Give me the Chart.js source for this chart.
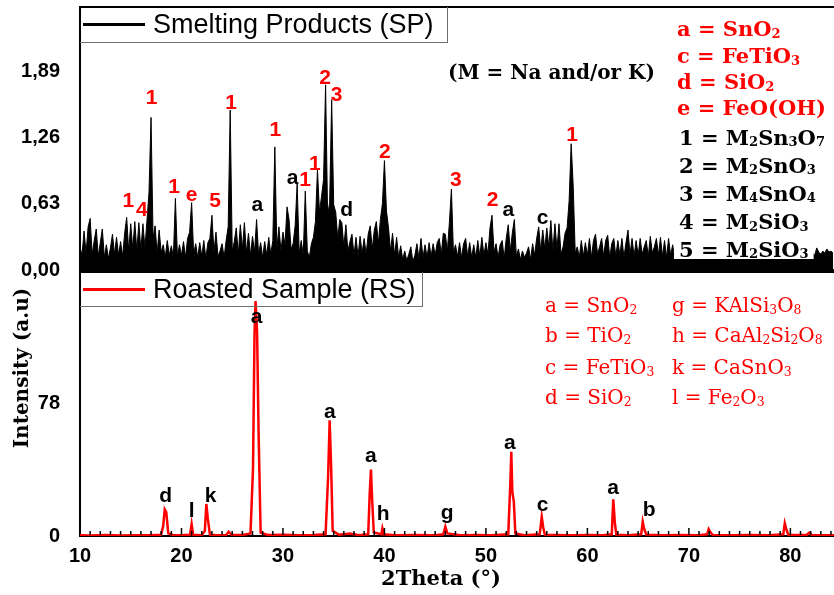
<!DOCTYPE html>
<html>
<head>
<meta charset="utf-8">
<title>XRD - Smelting Products vs Roasted Sample</title>
<script src="https://cdn.jsdelivr.net/npm/chart.js@4.4.1/dist/chart.umd.min.js"></script>
<style>
  body { margin: 0; background: #fff; width: 834px; height: 595px; overflow: hidden; position: relative; }
  canvas { position: absolute; left: 0; }
  #spCanvas { top: 0; }
  #rsCanvas { top: 270px; }
  .key {
    position: absolute; left: 80px; box-sizing: border-box;
    border: solid #6f6f6f; border-width: 0 1px 1px 0;
    display: flex; align-items: center;
    font: 27px "Liberation Sans", Arial, sans-serif; color: #000; z-index: 5;
  }
  .key .swatch { display: inline-block; width: 62px; height: 3px; margin: 0 8px 0 3px; }
</style>
</head>
<body>
<canvas id="spCanvas" width="834" height="290"></canvas>
<canvas id="rsCanvas" width="834" height="325"></canvas>
<div class="key" style="top:7px;width:368px;height:36px"><span class="swatch" style="background:#000"></span>Smelting Products (SP)</div>
<div class="key" style="top:272px;width:343px;height:35px"><span class="swatch" style="background:#f00"></span>Roasted Sample (RS)</div>
<script>
// --- data ---

// smelting products scan: 2theta from 10 in 0.2 steps
const spStart = 10;
const spStep = 0.2;
const spIntensity = [
  0.22, 0.14, 0.37, 0.16, 0.41,  0.49, 0.15, 0.28, 0.39, 0.13,   // 10, 11
  0.26, 0.39, 0.12, 0.24, 0.11,  0.21, 0.34, 0.15, 0.31, 0.14,   // 12, 13
  0.27, 0.13, 0.35, 0.50, 0.18,  0.44, 0.20, 0.46, 0.18, 0.45,   // 14, 15
  0.19, 0.44, 0.21, 0.47, 0.74,  1.45, 0.30, 0.42, 0.16, 0.38,   // 16, 17
  0.17, 0.24, 0.12, 0.28, 0.14,  0.23, 0.12, 0.68, 0.13, 0.24,   // 18, 19
  0.14, 0.27, 0.12, 0.30, 0.36,  0.64, 0.15, 0.25, 0.12, 0.26,   // 20, 21
  0.13, 0.28, 0.11, 0.26, 0.30,  0.52, 0.17, 0.36, 0.13, 0.18,   // 22, 23
  0.25, 0.12, 0.28, 0.41, 1.52,  0.18, 0.27, 0.40, 0.15, 0.43,   // 24, 25
  0.20, 0.45, 0.16, 0.35, 0.14,  0.32, 0.17, 0.48, 0.15, 0.26,   // 26, 27
  0.12, 0.27, 0.14, 0.31, 0.15,  0.28, 1.17, 0.20, 0.41, 0.18,   // 28, 29
  0.36, 0.24, 0.60, 0.48, 0.20,  0.25, 0.42, 0.82, 0.16, 0.28,   // 30, 31
  0.14, 0.75, 0.18, 0.12, 0.25,  0.31, 0.46, 0.95, 0.55, 0.70,   // 32, 33
  0.86, 1.76, 0.52, 0.64, 1.62,  0.62, 0.55, 0.30, 0.48, 0.45,   // 34, 35
  0.22, 0.43, 0.18, 0.27, 0.34,  0.14, 0.31, 0.13, 0.32, 0.16,   // 36, 37
  0.30, 0.15, 0.34, 0.42, 0.20,  0.38, 0.46, 0.25, 0.48, 0.63,   // 38, 39
  1.04, 0.56, 0.40, 0.18, 0.35,  0.14, 0.31, 0.12, 0.23, 0.10,   // 40, 41
  0.18, 0.09, 0.15, 0.22, 0.08,  0.14, 0.25, 0.11, 0.30, 0.12,   // 42, 43
  0.24, 0.12, 0.26, 0.13, 0.25,  0.14, 0.26, 0.30, 0.15, 0.35,   // 44, 45
  0.34, 0.18, 0.45, 0.77, 0.16,  0.24, 0.13, 0.26, 0.12, 0.25,   // 46, 47
  0.30, 0.13, 0.26, 0.12, 0.24,  0.12, 0.28, 0.13, 0.31, 0.14,   // 48, 49
  0.26, 0.15, 0.40, 0.52, 0.17,  0.25, 0.12, 0.24, 0.28, 0.11,   // 50, 51
  0.30, 0.43, 0.18, 0.35, 0.48,  0.13, 0.20, 0.10, 0.18, 0.12,   // 52, 53
  0.16, 0.22, 0.10, 0.25, 0.14,  0.30, 0.41, 0.18, 0.38, 0.20,   // 54, 55
  0.40, 0.22, 0.47, 0.18, 0.44,  0.20, 0.44, 0.15, 0.22, 0.35,   // 56, 57
  0.40, 0.66, 1.20, 0.80, 0.16,  0.22, 0.12, 0.28, 0.13, 0.26,   // 58, 59
  0.14, 0.30, 0.12, 0.28, 0.34,  0.15, 0.22, 0.30, 0.13, 0.28,   // 60, 61
  0.33, 0.12, 0.25, 0.30, 0.13,  0.28, 0.14, 0.30, 0.12, 0.26,   // 62, 63
  0.38, 0.15, 0.30, 0.13, 0.28,  0.14, 0.30, 0.15, 0.22, 0.28,   // 64, 65
  0.13, 0.32, 0.16, 0.22, 0.30,  0.14, 0.31, 0.13, 0.28, 0.12,   // 66, 67
  0.30, 0.14, 0.24, 0.12, 0.22,  0.18, 0.24, 0.15, 0.20, 0.17,   // 68, 69
  0.22, 0.16, 0.19, 0.14, 0.21,  0.17, 0.20, 0.15, 0.23, 0.18,   // 70, 71
  0.16, 0.21, 0.14, 0.19, 0.22,  0.15, 0.18, 0.20, 0.14, 0.17,   // 72, 73
  0.19, 0.15, 0.22, 0.16, 0.18,  0.14, 0.20, 0.17, 0.21, 0.15,   // 74, 75
  0.18, 0.16, 0.19, 0.14, 0.22,  0.17, 0.21, 0.15, 0.18, 0.16,   // 76, 77
  0.20, 0.14, 0.19, 0.17, 0.15,  0.16, 0.22, 0.18, 0.15, 0.20,   // 78, 79
  0.14, 0.18, 0.21, 0.16, 0.19,  0.17, 0.15, 0.20, 0.14, 0.18,   // 80, 81
  0.19, 0.16, 0.14, 0.21, 0.17,  0.15, 0.18, 0.16, 0.20, 0.17,   // 82, 83
  0.18, 0.16                                                     // 84
];
const spTicks = [0, 0.63, 1.26, 1.89];

// roasted sample: peaks on a flat baseline
const rsTheta = [
  10.0, 11.0, 12.5, 14.0, 15.5, 17.0, 18.0, 18.2, 18.35, 18.5, 18.7, 19.2,
  20.2, 20.85, 21.0, 21.15, 22.0, 22.3, 22.45, 22.6, 22.8, 23.5, 24.4, 24.65, 24.9,
  26.0, 26.8, 27.05, 27.2, 27.3, 27.45, 27.6, 27.8, 28.5, 30.0, 31.5, 33.0,
  34.2, 34.45, 34.6, 34.75, 34.9, 35.5, 36.6, 37.5, 38.4, 38.55, 38.67, 38.8, 38.95,
  39.7, 39.8, 39.95, 41.0, 43.0, 45.0, 45.8, 46.0, 46.2, 47.5, 49.0, 50.5,
  52.2, 52.4, 52.5, 52.6, 52.75, 52.9, 53.8, 55.3, 55.5, 55.65, 55.8, 57.0, 58.5,
  60.0, 61.5, 62.4, 62.55, 62.7, 62.85, 64.0, 65.3, 65.45, 65.6, 65.8, 67.5, 69.0,
  71.0, 71.8, 71.95, 72.15, 72.35, 74.0, 76.0, 78.0, 79.3, 79.45, 79.6, 79.8,
  81.6, 81.85, 82.1, 84.3
];
const rsIntensity = [
  0.5, 0.3, 0.6, 0.3, 0.5, 0.4, 0.8, 6, 15.6, 14, 1.5, 0.5,
  0.6, 0.8, 7.0, 0.8, 0.5, 3, 18.8, 10, 0.8, 0.5, 0.6, 2.5, 0.8,
  0.6, 1.5, 40, 120, 138, 120, 60, 2, 0.6, 0.8, 0.5, 0.6,
  1, 35, 68, 40, 3, 0.8, 1.5, 0.5, 1, 25, 39, 20, 2,
  1, 4.5, 1, 0.5, 0.6, 0.5, 1, 5.5, 1.5, 0.5, 0.6, 0.5,
  1, 30, 49.5, 26, 20, 1.5, 0.5, 1, 11.3, 5, 0.8, 0.6, 0.5,
  0.6, 0.5, 1, 21.5, 8, 0.8, 0.5, 1, 8.4, 4, 0.8, 0.5, 0.6,
  0.5, 1, 4, 2, 0.6, 0.5, 0.6, 0.5, 1, 7.5, 4, 0.6,
  0.6, 2, 0.6, 0.5
];
const rsTicks = [0, 78];
const thetaTicks = [10, 20, 30, 40, 50, 60, 70, 80];

// phase marks above the peaks
const spMarks = ['1', '4', '1', '1', 'e', '5', '1', 'a', '1', 'a', '1', '1', '2', '3', 'd', '2', '3', '2', 'a', 'c', '1'];
const spMarkTheta = [14.76, 16.1, 17.06, 19.26, 21.0, 23.3, 24.88, 27.47, 29.24, 30.95, 32.17, 33.15, 34.14, 35.29, 36.27, 40.05, 47.04, 50.66, 52.2, 55.58, 58.5];
const spMarkLevel = [0.65, 0.57, 1.63, 0.79, 0.71, 0.65, 1.59, 0.62, 1.33, 0.87, 0.85, 1.01, 1.82, 1.66, 0.57, 1.12, 0.85, 0.66, 0.57, 0.49, 1.28];

const rsMarks = ['d', 'l', 'k', 'a', 'a', 'a', 'h', 'g', 'a', 'c', 'a', 'b'];
const rsMarkTheta = [18.44, 21.0, 22.87, 27.4, 34.63, 38.67, 39.88, 46.19, 52.36, 55.58, 62.54, 66.09];
const rsMarkLevel = [23.1, 14.3, 23.5, 128.6, 72.9, 46.9, 12.7, 13.3, 54.7, 18.2, 28.0, 15.2];

// phase keys ("_" marks a subscript digit)
const spKeyRed = ['a = SnO_2', 'c = FeTiO_3', 'd = SiO_2', 'e = FeO(OH)'];
const spKeyBlack = ['1 = M_2Sn_3O_7', '2 = M_2SnO_3', '3 = M_4SnO_4', '4 = M_2SiO_3', '5 = M_2SiO_3'];
const rsKeyLeft = ['a = SnO_2', 'b = TiO_2', 'c = FeTiO_3', 'd = SiO_2'];
const rsKeyRight = ['g = KAlSi_3O_8', 'h = CaAl_2Si_2O_8', 'k = CaSnO_3', 'l = Fe_2O_3'];

// --- helpers ---
const SANS = '"Liberation Sans", Arial, sans-serif';
const SERIF = '"DejaVu Serif", serif';
const RED = '#ff0000';

// draws text with subscripts, returns its width
function formula(ctx, text, x, base, size, weight, measureOnly) {
  let cx = x;
  text.split(/(_\d)/).filter(Boolean).forEach(part => {
    const sub = part[0] === '_';
    const t = sub ? part.slice(1) : part;
    ctx.font = `${weight} ${sub ? size * 0.62 : size}px ${SERIF}`;
    if (!measureOnly) ctx.fillText(t, cx, base + (sub ? size * 0.08 : 0));
    cx += ctx.measureText(t).width;
  });
  return cx - x;
}

const frame = {
  id: 'frame',
  beforeDatasetsDraw(chart) {
    const { ctx, chartArea: a } = chart;
    ctx.save();
    ctx.strokeStyle = '#000';
    ctx.lineWidth = 2;
    ctx.beginPath();
    ctx.moveTo(chart.width, a.top);
    ctx.lineTo(a.left, a.top);
    ctx.lineTo(a.left, a.bottom);
    ctx.lineTo(chart.width, a.bottom);
    ctx.stroke();
    ctx.restore();
  },
  afterDatasetsDraw(chart, args, opts) {
    if (!opts.ticks) return;
    const { ctx, chartArea: a, scales: { x } } = chart;
    ctx.save();
    ctx.strokeStyle = '#000';
    ctx.lineWidth = 1.5;
    for (let t = Math.ceil(x.min) + 1; t <= x.max; t++) {
      const px = x.getPixelForValue(t);
      const len = t % 10 === 0 ? 7 : 4;
      ctx.beginPath();
      ctx.moveTo(px, a.bottom - 1);
      ctx.lineTo(px, a.bottom - 1 - len);
      ctx.stroke();
    }
    ctx.restore();
  }
};

const peakNotes = {
  id: 'peakNotes',
  afterDatasetsDraw(chart, args, opts) {
    const { ctx, scales: { x, y } } = chart;
    ctx.save();
    ctx.font = `bold 21px ${SANS}`;
    ctx.textAlign = 'center';
    ctx.textBaseline = 'middle';
    opts.marks.forEach((m, i) => {
      ctx.fillStyle = opts.color(m);
      ctx.fillText(m, x.getPixelForValue(opts.theta[i]), y.getPixelForValue(opts.level[i]));
    });
    ctx.restore();
  }
};

const spKey = {
  id: 'spKey',
  afterDatasetsDraw(chart) {
    const ctx = chart.ctx;
    ctx.save();
    ctx.textAlign = 'left';
    ctx.textBaseline = 'alphabetic';
    const size = 21;
    const rows = spKeyRed.map((t, i) => ({ t, c: RED, x: 677, y: [28.5, 55.5, 81.5, 107.5][i] }))
      .concat(spKeyBlack.map((t, i) => ({ t, c: '#000', x: 679, y: [137, 165, 193, 221.5, 249][i] })));
    rows.forEach((r, i) => {
      const w = formula(ctx, r.t, r.x, 0, size, 'bold', true);
      const bottom = i === rows.length - 1 ? 259 : r.y + 15;
      ctx.fillStyle = '#fff';
      ctx.fillRect(r.x - 5, r.y - 14, w + 10, bottom - (r.y - 14));
    });
    rows.forEach(r => {
      ctx.fillStyle = r.c;
      formula(ctx, r.t, r.x, r.y + size * 0.365, size, 'bold');
    });
    ctx.fillStyle = '#000';
    formula(ctx, '(M = Na and/or K)', 448, 72 + 20 * 0.365, 20, 'bold');
    ctx.restore();
  }
};

const rsKey = {
  id: 'rsKey',
  afterDatasetsDraw(chart) {
    const ctx = chart.ctx;
    ctx.save();
    ctx.textAlign = 'left';
    ctx.textBaseline = 'alphabetic';
    ctx.fillStyle = RED;
    const rowY = [35, 65, 97, 127];
    rsKeyLeft.forEach((t, i) => formula(ctx, t, 545, rowY[i] + 20 * 0.365, 20, 'normal'));
    rsKeyRight.forEach((t, i) => formula(ctx, t, 672, rowY[i] + 20 * 0.365, 20, 'normal'));

    // axis titles
    ctx.fillStyle = '#000';
    ctx.textAlign = 'center';
    ctx.textBaseline = 'middle';
    ctx.font = `bold 21px ${SERIF}`;
    ctx.fillText('2Theta (°)', 441, 310);
    ctx.translate(23, 98);
    ctx.rotate(-Math.PI / 2);
    ctx.font = `bold 20px ${SERIF}`;
    ctx.fillText('Intensity (a.u)', 0, 0);
    ctx.restore();
  }
};

const tickFont = { family: SANS, weight: 'bold', size: 20 };

function yAxis(max, ticks, fmt) {
  return {
    min: 0, max,
    // fixed gutter, and no extra room reserved for the end labels
    afterFit: s => { s.width = 80; s.paddingTop = 0; s.paddingBottom = 0; },
    afterBuildTicks: s => { s.ticks = ticks.map(v => ({ value: v })); },
    grid: { display: false },
    border: { display: false },
    ticks: { padding: 12, color: '#000', font: tickFont, callback: fmt }
  };
}

// --- charts ---
new Chart(document.getElementById('spCanvas'), {
  type: 'line',
  data: {
    datasets: [{
      label: 'Smelting Products (SP)',
      data: spIntensity.map((v, i) => ({ x: spStart + i * spStep, y: v })),
      borderColor: '#000',
      backgroundColor: '#000',
      borderWidth: 1,
      fill: 'origin',
      pointRadius: 0,
      tension: 0
    }]
  },
  options: {
    responsive: false, animation: false, devicePixelRatio: 1,
    layout: { padding: { top: 7, right: 0, bottom: 20, left: 0 } },
    plugins: {
      legend: { display: false }, tooltip: { enabled: false },
      frame: { ticks: false },
      peakNotes: {
        marks: spMarks, theta: spMarkTheta, level: spMarkLevel,
        color: m => ('acd'.includes(m) ? '#000' : RED)
      }
    },
    scales: {
      x: { type: 'linear', min: 10, max: 84.3, display: false },
      y: yAxis(2.5, spTicks, v => v.toFixed(2).replace('.', ','))
    }
  },
  plugins: [frame, peakNotes, spKey]
});

new Chart(document.getElementById('rsCanvas'), {
  type: 'line',
  data: {
    datasets: [{
      label: 'Roasted Sample (RS)',
      data: rsTheta.map((t, i) => ({ x: t, y: rsIntensity[i] })),
      borderColor: RED,
      borderWidth: 2.5,
      fill: false,
      pointRadius: 0,
      tension: 0
    }]
  },
  options: {
    responsive: false, animation: false, devicePixelRatio: 1,
    layout: { padding: { top: 2, right: 0, bottom: 0, left: 0 } },
    plugins: {
      legend: { display: false }, tooltip: { enabled: false },
      frame: { ticks: true },
      peakNotes: { marks: rsMarks, theta: rsMarkTheta, level: rsMarkLevel, color: () => '#000' }
    },
    scales: {
      x: {
        type: 'linear', min: 10, max: 84.3,
        afterFit: s => { s.height = 59; s.paddingLeft = 0; s.paddingRight = 0; },
        afterBuildTicks: s => { s.ticks = thetaTicks.map(v => ({ value: v })); },
        grid: { display: false },
        border: { display: false },
        ticks: { padding: 0, color: '#000', font: tickFont, maxRotation: 0 }
      },
      y: yAxis(155, rsTicks, v => String(v))
    }
  },
  plugins: [frame, peakNotes, rsKey]
});
</script>
</body>
</html>
